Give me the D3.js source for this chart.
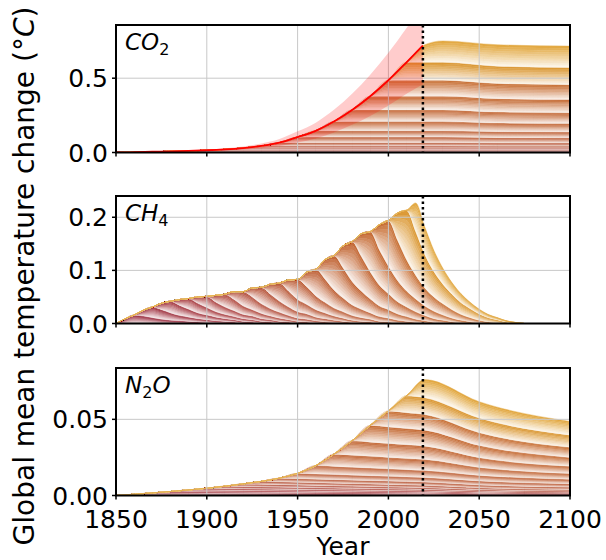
<!DOCTYPE html>
<html>
<head>
<meta charset="utf-8">
<script src="https://cdn.jsdelivr.net/npm/d3@7"></script>
<style>
  body { margin: 0; background: #fff; }
  svg { display: block; font-family: "DejaVu Sans", sans-serif; }
</style>
</head>
<body>
<svg width="606" height="560"></svg>
<script>
// Emission cohorts: start year of each decade.
const decades = [1850, 1860, 1870, 1880, 1890, 1900, 1910, 1920, 1930, 1940, 1950, 1960, 1970, 1980, 1990, 2000, 2010];

// CO2: warming (°C) from each decade's emissions at end of decade, 2030, 2060, 2100.
const co2AtEnd  = [0.002, 0.003, 0.003, 0.003, 0.004, 0.006, 0.009, 0.014, 0.022, 0.038, 0.042, 0.062, 0.078, 0.093, 0.107, 0.122, 0.118];
const co2In2030 = [0.002, 0.003, 0.003, 0.003, 0.004, 0.006, 0.009, 0.014, 0.022, 0.038, 0.042, 0.062, 0.078, 0.093, 0.107, 0.121, 0.144];
const co2In2060 = [0.002, 0.003, 0.003, 0.003, 0.004, 0.006, 0.009, 0.013, 0.021, 0.036, 0.040, 0.058, 0.074, 0.090, 0.102, 0.117, 0.144];
const co2In2100 = [0.002, 0.003, 0.003, 0.003, 0.004, 0.006, 0.009, 0.013, 0.021, 0.035, 0.039, 0.057, 0.073, 0.088, 0.100, 0.116, 0.144];

// CO2 historical total, best estimate and likely range.
const co2Years = [1850, 1860, 1870, 1880, 1890, 1900, 1910, 1920, 1930, 1940, 1950, 1960, 1970, 1980, 1990, 2000, 2010, 2019];
const co2Best  = [0, 0.002, 0.005, 0.008, 0.011, 0.015, 0.021, 0.030, 0.044, 0.066, 0.104, 0.146, 0.208, 0.286, 0.379, 0.486, 0.607, 0.720];
const co2Low   = [0, 0.001, 0.003, 0.005, 0.007, 0.010, 0.014, 0.020, 0.029, 0.043, 0.068, 0.095, 0.135, 0.186, 0.246, 0.316, 0.395, 0.460];
const co2High  = [0, 0.003, 0.007, 0.011, 0.015, 0.021, 0.029, 0.041, 0.061, 0.091, 0.143, 0.201, 0.287, 0.395, 0.523, 0.671, 0.838, 0.995];

// CH4: warming from each decade, every 5 years from the decade start.
const ch4Rows = [
  [0, 0.009, 0.016, 0.014, 0.011, 0.008, 0.006, 0.005, 0.004, 0.003, 0.002, 0.001, 0.001, 0.001, 0, 0],
  [0, 0.011, 0.020, 0.018, 0.014, 0.010, 0.008, 0.006, 0.005, 0.004, 0.003, 0.002, 0.001, 0.001, 0, 0],
  [0, 0.012, 0.022, 0.019, 0.015, 0.011, 0.009, 0.007, 0.005, 0.004, 0.003, 0.002, 0.001, 0.001, 0, 0],
  [0, 0.011, 0.020, 0.018, 0.014, 0.010, 0.008, 0.006, 0.005, 0.004, 0.003, 0.002, 0.001, 0.001, 0, 0],
  [0, 0.012, 0.021, 0.018, 0.014, 0.011, 0.008, 0.007, 0.005, 0.004, 0.003, 0.002, 0.001, 0.001, 0, 0],
  [0, 0.013, 0.024, 0.021, 0.016, 0.012, 0.010, 0.007, 0.006, 0.004, 0.003, 0.002, 0.001, 0.001, 0, 0],
  [0, 0.015, 0.027, 0.024, 0.018, 0.014, 0.011, 0.008, 0.006, 0.005, 0.004, 0.002, 0.002, 0.001, 0, 0],
  [0, 0.017, 0.031, 0.027, 0.021, 0.016, 0.012, 0.010, 0.007, 0.006, 0.004, 0.003, 0.002, 0.001, 0.001, 0],
  [0, 0.019, 0.034, 0.030, 0.023, 0.018, 0.014, 0.011, 0.008, 0.006, 0.004, 0.003, 0.002, 0.001, 0.001, 0],
  [0, 0.021, 0.038, 0.033, 0.026, 0.020, 0.015, 0.012, 0.009, 0.007, 0.005, 0.003, 0.002, 0.001, 0.001, 0],
  [0, 0.028, 0.050, 0.044, 0.034, 0.026, 0.020, 0.016, 0.012, 0.009, 0.007, 0.005, 0.003, 0.002, 0.001, 0],
  [0, 0.036, 0.065, 0.057, 0.044, 0.034, 0.026, 0.020, 0.016, 0.012, 0.009, 0.006, 0.004, 0.002, 0.001, 0],
  [0, 0.041, 0.075, 0.066, 0.051, 0.039, 0.030, 0.023, 0.018, 0.014, 0.010, 0.007, 0.005, 0.003, 0.001, 0],
  [0, 0.042, 0.076, 0.067, 0.052, 0.040, 0.030, 0.024, 0.018, 0.014, 0.010, 0.007, 0.005, 0.003, 0.001, 0],
  [0, 0.047, 0.086, 0.076, 0.059, 0.045, 0.034, 0.027, 0.021, 0.016, 0.011, 0.008, 0.005, 0.003, 0.001, 0],
  [0, 0.051, 0.093, 0.082, 0.063, 0.048, 0.037, 0.029, 0.022, 0.017, 0.012, 0.008, 0.006, 0.003, 0.001, 0],
  [0, 0.054, 0.052, 0.040, 0.030, 0.022, 0.017, 0.012, 0.009, 0.006, 0.004, 0.002, 0.001, 0]
];

// N2O: warming from each decade at end of decade, 2020, 2050, 2100.
const n2oAtEnd  = [0.0008, 0.0009, 0.0010, 0.0011, 0.0012, 0.0015, 0.0017, 0.0019, 0.0024, 0.0035, 0.0055, 0.0080, 0.0095, 0.0110, 0.0105, 0.0112, 0.0120];
const n2oIn2020 = [0.0004, 0.0005, 0.0006, 0.0007, 0.0008, 0.0010, 0.0012, 0.0015, 0.0021, 0.0030, 0.0046, 0.0072, 0.0088, 0.0105, 0.0102, 0.0110, 0.0120];
const n2oIn2050 = [0.0003, 0.0004, 0.0004, 0.0005, 0.0006, 0.0008, 0.0009, 0.0012, 0.0018, 0.0026, 0.0037, 0.0052, 0.0064, 0.0080, 0.0084, 0.0096, 0.0108];
const n2oIn2100 = [0.0002, 0.0003, 0.0003, 0.0004, 0.0005, 0.0006, 0.0007, 0.0010, 0.0015, 0.0022, 0.0029, 0.0038, 0.0048, 0.0058, 0.0066, 0.0080, 0.0090];

// Axis ticks.
const xTicks = [1850, 1900, 1950, 2000, 2050, 2100];
const co2Ticks = [0, 0.5];
const ch4Ticks = [0, 0.1, 0.2];
const n2oTicks = [0, 0.05];
const presentYear = 2019;

// Colour per decade (darkest edge of each band).
const decadeColors = ["#9b2c3e", "#a03240", "#a53842", "#aa3e43", "#ae4544", "#b24c42", "#b65341",
  "#b9593f", "#bc5e3e", "#bf623d", "#c1663c", "#c3693b", "#c56c3b", "#c76f3a", "#c9733a", "#dc9a38", "#e3aa45"];

// Knot lists [year, value] per cohort.
const co2Knots = decades.map((d, i) => [[d, 0], [d + 10, co2AtEnd[i]], [2030, co2In2030[i]], [2060, co2In2060[i]], [2100, co2In2100[i]]]);
const n2oKnots = decades.map((d, i) => {
  const k = [[d, 0], [d + 10, n2oAtEnd[i]]];
  if (d + 10 < 2020) k.push([2020, n2oIn2020[i]]);
  k.push([2050, n2oIn2050[i]], [2100, n2oIn2100[i]]);
  return k;
});
const ch4Knots = decades.map((d, i) => ch4Rows[i].map((v, j) => [d + 5 * j, v]));

const svg = d3.select("svg");
const x = d3.scaleLinear().domain([1850, 2100]).range([116, 570]);
const panelH = 127.5;
const K = 10;

const panels = [
  { id: "co2", top: 25, ymax: 0.858, ticks: co2Ticks, fmt: d3.format(".1f"), knots: co2Knots, label: ["CO", "2", ""] },
  { id: "ch4", top: 196, ymax: 0.24, ticks: ch4Ticks, fmt: d3.format(".1f"), knots: ch4Knots, label: ["CH", "4", ""] },
  { id: "n2o", top: 368, ymax: 0.0837, ticks: n2oTicks, fmt: d3.format(".2f"), knots: n2oKnots, label: ["N", "2", "O"] }
];

// Linear read of a cohort at year t.
function valueAt(knots, t) {
  if (t <= knots[0][0]) return 0;
  const last = knots[knots.length - 1];
  if (t >= last[0]) return last[1];
  for (let i = 1; i < knots.length; i++) {
    if (t <= knots[i][0]) {
      const [t0, v0] = knots[i - 1], [t1, v1] = knots[i];
      return v0 + (v1 - v0) * (t - t0) / (t1 - t0);
    }
  }
}

panels.forEach((p, pi) => {
  const y = d3.scaleLinear().domain([0, p.ymax]).range([p.top + panelH, p.top]);
  const g = svg.append("g");

  svg.append("clipPath").attr("id", "clip-" + p.id)
    .append("rect").attr("x", x(1850)).attr("y", p.top).attr("width", x(2100) - x(1850)).attr("height", panelH);
  const plot = g.append("g").attr("clip-path", `url(#clip-${p.id})`);

  // Common year grid for stacking.
  const grid = Array.from(new Set([1850, 2100, ...p.knots.flat().map(k => k[0])]))
    .filter(t => t >= 1850 && t <= 2100).sort((a, b) => a - b);
  let base = grid.map(() => 0);
  const bands = p.knots.map(kn => {
    const lo = base;
    const hi = grid.map((t, j) => lo[j] + valueAt(kn, t));
    base = hi;
    return { lo, hi };
  });

  bands.forEach((b, i) => {
    const dark = decadeColors[i];
    const light = d3.interpolateRgb(dark, "#ffffff")(0.88);
    for (let k = 0; k < K; k++) {
      const col = d3.interpolateRgb(light, dark)(k / (K - 1));
      const pts = grid.map((t, j) => ({
        t,
        a: b.lo[j] + (b.hi[j] - b.lo[j]) * k / K,
        b: b.lo[j] + (b.hi[j] - b.lo[j]) * (k + 1) / K
      }));
      plot.append("path")
        .attr("d", d3.area().x(d => x(d.t)).y0(d => y(d.a)).y1(d => y(d.b)).curve(d3.curveMonotoneX)(pts))
        .attr("fill", col).attr("stroke", col).attr("stroke-width", 0.4);
    }
  });

  // Grid lines.
  plot.selectAll(".vg").data(xTicks).join("line")
    .attr("x1", d => x(d)).attr("x2", d => x(d)).attr("y1", p.top).attr("y2", p.top + panelH)
    .attr("stroke", "#c8c8c8").attr("stroke-width", 1);
  plot.selectAll(".hg").data(p.ticks).join("line")
    .attr("x1", x(1850)).attr("x2", x(2100)).attr("y1", d => y(d)).attr("y2", d => y(d))
    .attr("stroke", "#c8c8c8").attr("stroke-width", 1);

  if (p.id === "co2") {
    const rows = co2Years.map((t, i) => ({ t, best: co2Best[i], low: co2Low[i], high: co2High[i] }));
    plot.append("path")
      .attr("d", d3.area().x(d => x(d.t)).y0(d => y(d.low)).y1(d => y(d.high)).curve(d3.curveMonotoneX)(rows))
      .attr("fill", "red").attr("fill-opacity", 0.2);
    plot.append("path")
      .attr("d", d3.line().x(d => x(d.t)).y(d => y(d.best)).curve(d3.curveMonotoneX)(rows))
      .attr("fill", "none").attr("stroke", "red").attr("stroke-width", 1.8);
  }

  // Present-day marker.
  g.append("line")
    .attr("x1", x(presentYear)).attr("x2", x(presentYear)).attr("y1", p.top).attr("y2", p.top + panelH)
    .attr("stroke", "#000").attr("stroke-width", 2.5).attr("stroke-dasharray", "2.5,3");

  // Frame.
  g.append("rect").attr("x", x(1850)).attr("y", p.top).attr("width", x(2100) - x(1850)).attr("height", panelH)
    .attr("fill", "none").attr("stroke", "#000").attr("stroke-width", 2);

  // Ticks.
  g.selectAll(".yt").data(p.ticks).join("line")
    .attr("x1", x(1850) - 4).attr("x2", x(1850)).attr("y1", d => y(d)).attr("y2", d => y(d))
    .attr("stroke", "#000").attr("stroke-width", 1.5);
  g.selectAll(".ytl").data(p.ticks).join("text")
    .attr("x", x(1850) - 8).attr("y", d => y(d)).attr("dy", "0.36em")
    .attr("text-anchor", "end").attr("font-size", 25).text(d => p.fmt(d));
  g.selectAll(".xt").data(xTicks).join("line")
    .attr("x1", d => x(d)).attr("x2", d => x(d)).attr("y1", p.top + panelH).attr("y2", p.top + panelH + 4)
    .attr("stroke", "#000").attr("stroke-width", 1.5);

  // Gas label.
  const lab = g.append("text").attr("x", 125).attr("y", p.top + 25).attr("font-size", 23);
  lab.append("tspan").attr("font-style", "italic").text(p.label[0]);
  lab.append("tspan").attr("font-size", 16).attr("dy", 5).text(p.label[1]);
  if (p.label[2]) lab.append("tspan").attr("font-style", "italic").attr("dy", -5).text(p.label[2]);

  if (pi === panels.length - 1) {
    g.selectAll(".xtl").data(xTicks).join("text")
      .attr("x", d => x(d)).attr("y", p.top + panelH + 32)
      .attr("text-anchor", "middle").attr("font-size", 25).text(d => d);
  }
});

svg.append("text").attr("x", x(1975)).attr("y", 555).attr("text-anchor", "middle")
  .attr("font-size", 25).text("Year");

const yl = svg.append("text")
  .attr("transform", "translate(34,276) rotate(-90)")
  .attr("text-anchor", "middle").attr("font-size", 28);
yl.append("tspan").text("Global mean temperature change (°");
yl.append("tspan").attr("font-style", "italic").text("C");
yl.append("tspan").text(")");
</script>
</body>
</html>
